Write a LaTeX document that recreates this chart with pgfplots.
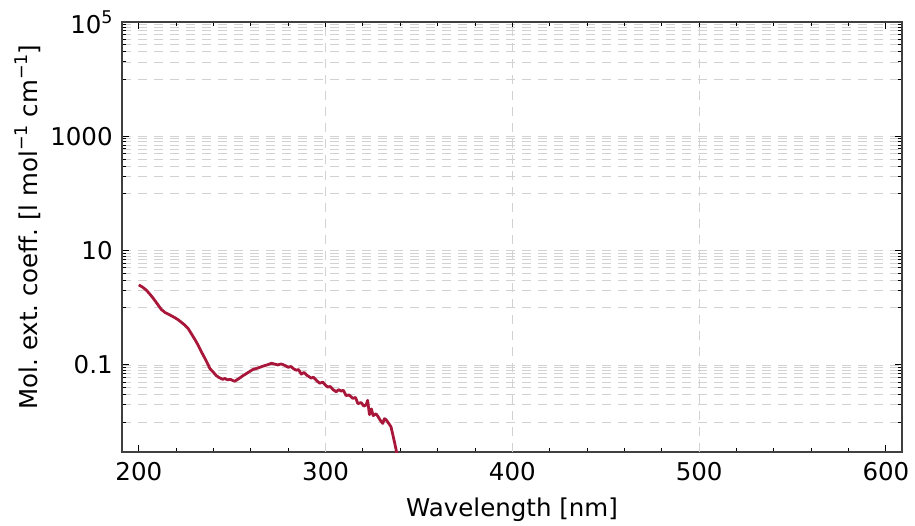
\documentclass[border=0pt]{standalone}
\usepackage{pgfplots}
\pgfplotsset{compat=1.18}
\usepackage{fontspec}
\setmainfont{DejaVu Sans}
\definecolor{crim}{RGB}{168,23,58}
\definecolor{gridc}{RGB}{210,210,210}
\newcommand{\sups}[1]{\raisebox{0.42em}{\fontsize{17.5}{17.5}\selectfont #1}}
\begin{document}
\frenchspacing
\fontsize{24.5}{29}\selectfont
\begin{tikzpicture}
\begin{axis}[
  scale only axis, width=780pt, height=430pt,
  xmin=191, xmax=608.6,
  ymode=log, ymin=0.003, ymax=100000,
  xtick={200,300,400,500,600},
  minor x tick num=4,
  extra x ticks={300,400,500},
  extra x tick labels={,,},
  extra x tick style={grid=major, major tick length=0pt},
  ytick={0.1,10,1000,100000},
  yticklabels={0.1,10,1000,10\sups{5}},
  minor ytick={0.01,0.02,0.03,0.04,0.05,0.06,0.07,0.08,0.09,1,2,3,4,5,6,7,8,9,100,200,300,400,500,600,700,800,900,10000,20000,30000,40000,50000,60000,70000,80000,90000},
  /pgf/number format/assume math mode=true,
  tick label style={font=\fontsize{24.5}{29}\selectfont},
  label style={font=\fontsize{24.5}{29}\selectfont},
  xlabel={Wavelength [nm]},
  ylabel={Mol. ext. coeff. [l mol\sups{−1} cm\sups{−1}]},
  ylabel style={yshift=-7pt, xshift=10pt},
  tick align=inside,
  major tick length=7pt, minor tick length=4pt,
  every tick/.style={black, line width=1pt},
  axis line style={black!75, line width=1.3pt},
  xmajorgrids=false, ymajorgrids=true, yminorgrids=true,
  major grid style={gridc, dash pattern=on 9pt off 7pt, line width=0.9pt},
  minor grid style={gridc, dash pattern=on 9pt off 7pt, line width=0.9pt},
  xticklabel style={yshift=-2pt},
  yticklabel style={xshift=-1pt},
]
\addplot[crim, line width=2.8pt, line join=round] coordinates {
(200,2.51) (202,2.30) (204,2.04) (206,1.72) (207.7,1.47) (210,1.16) (212,0.94) (214,0.83) (216.6,0.75) (219,0.68) (221,0.62) (223,0.55) (224.6,0.50) (226.5,0.43) (228,0.358) (230,0.28) (231.7,0.224) (233.5,0.17) (235.3,0.132) (237,0.103) (238,0.087) (240,0.074) (241.5,0.065) (243,0.060) (245,0.056) (246,0.058) (247.5,0.055) (249,0.056) (250.5,0.053) (251.3,0.052) (253,0.056) (255.8,0.065) (258,0.072) (261,0.083) (264,0.089) (266.4,0.095) (269,0.101) (271,0.107) (272.5,0.104) (274.4,0.100) (276,0.104) (277,0.102) (278.5,0.097) (280,0.091) (281.5,0.094) (283,0.085) (284.3,0.081) (285.5,0.083) (287,0.069) (288.5,0.074) (290,0.066) (292.3,0.059) (293.5,0.061) (295,0.054) (296.8,0.048) (298.5,0.050) (300,0.044) (301.2,0.041) (302.5,0.042) (304,0.037) (305.7,0.034) (307,0.037) (308.3,0.035) (309.5,0.036) (311,0.029) (312.5,0.030) (314.6,0.026) (316,0.027) (317.3,0.021) (319,0.022) (320.5,0.019) (321.7,0.020) (322.5,0.024) (323.5,0.0135) (324.5,0.017) (325.5,0.0130) (327,0.0140) (328,0.0126) (329.5,0.0105) (330.6,0.0095) (331.5,0.0115) (332.4,0.0110) (333.5,0.0098) (335,0.0083) (336,0.0060) (337,0.0043) (338,0.0030) (338.5,0.0026)
};
\coordinate (BL) at (rel axis cs:0,0);
\coordinate (TR) at (rel axis cs:1,1);
\end{axis}
\pgfresetboundingbox
\path[use as bounding box] ([xshift=-122pt,yshift=-73pt]BL) rectangle ([xshift=13pt,yshift=22pt]TR);
\end{tikzpicture}
\end{document}
